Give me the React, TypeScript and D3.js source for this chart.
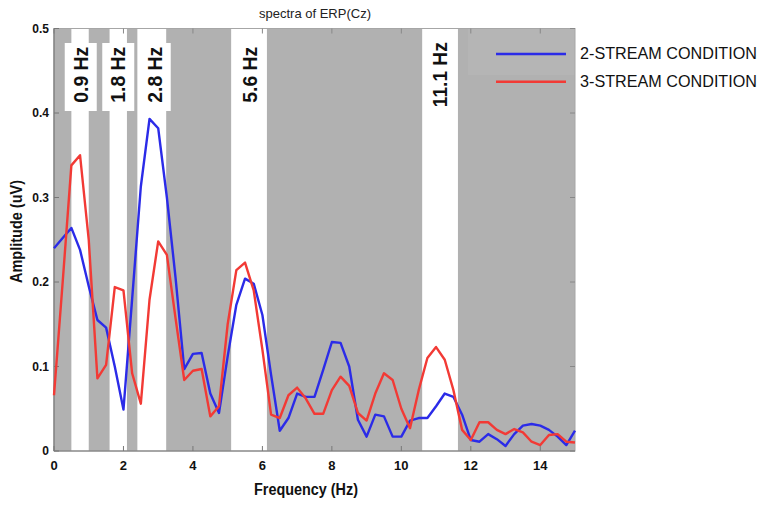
import React from "react";
import * as d3 from "d3";

const freqs = [
  0, 0.25, 0.5, 0.75, 1, 1.25, 1.5, 1.75, 2, 2.25, 2.5, 2.75, 3, 3.25, 3.5, 3.75,
  4, 4.25, 4.5, 4.75, 5, 5.25, 5.5, 5.75, 6, 6.25, 6.5, 6.75, 7, 7.25, 7.5, 7.75,
  8, 8.25, 8.5, 8.75, 9, 9.25, 9.5, 9.75, 10, 10.25, 10.5, 10.75, 11, 11.25, 11.5, 11.75,
  12, 12.25, 12.5, 12.75, 13, 13.25, 13.5, 13.75, 14, 14.25, 14.5, 14.75, 15,
];

const stream2 = [
  0.24, 0.252, 0.264, 0.238, 0.195, 0.155, 0.146, 0.1, 0.049, 0.18, 0.313, 0.393, 0.382, 0.3, 0.205, 0.097,
  0.115, 0.116, 0.068, 0.045, 0.112, 0.173, 0.204, 0.198, 0.161, 0.09, 0.024, 0.039, 0.068, 0.064, 0.064, 0.096,
  0.129, 0.128, 0.1, 0.037, 0.017, 0.043, 0.041, 0.017, 0.017, 0.036, 0.039, 0.039, 0.053, 0.068, 0.064, 0.043,
  0.013, 0.011, 0.02, 0.014, 0.006, 0.02, 0.03, 0.032, 0.03, 0.025, 0.017, 0.007, 0.024,
];

const stream3 = [
  0.066, 0.2, 0.338, 0.35, 0.25, 0.086, 0.102, 0.194, 0.19, 0.092, 0.056, 0.179, 0.248, 0.232, 0.157, 0.084,
  0.095, 0.097, 0.041, 0.053, 0.15, 0.214, 0.223, 0.19, 0.12, 0.043, 0.039, 0.066, 0.075, 0.062, 0.044, 0.044,
  0.072, 0.088, 0.077, 0.045, 0.036, 0.068, 0.092, 0.084, 0.05, 0.027, 0.072, 0.11, 0.123, 0.108, 0.072, 0.025,
  0.013, 0.034, 0.034, 0.025, 0.02, 0.026, 0.022, 0.011, 0.007, 0.019, 0.02, 0.011, 0.01,
];

// white frequency bands [start, end] in Hz
const bandStarts = [0.5, 1.6, 2.4, 5.1, 10.6];
const bandEnds = [1.0, 2.1, 3.23, 6.13, 11.63];
const bandLabels = ["0.9 Hz", "1.8 Hz", "2.8 Hz", "5.6 Hz", "11.1 Hz"];
const bandLabelPos = [0.77, 1.85, 2.9, 5.65, 11.11];

const xTicks = [0, 2, 4, 6, 8, 10, 12, 14];
const yTicks = [0, 0.1, 0.2, 0.3, 0.4, 0.5];
const yTickLabels = ["0", "0.1", "0.2", "0.3", "0.4", "0.5"];

const seriesNames = ["2-STREAM CONDITION", "3-STREAM CONDITION"];
const seriesColors = ["#2b2be8", "#f23a35"];

export default function App() {
  const W = 765;
  const H = 508;
  const x = d3.scaleLinear().domain([0, 15]).range([54, 575]);
  const y = d3.scaleLinear().domain([0, 0.5]).range([451, 28.5]);
  const top = y(0.5);
  const bottom = y(0);
  const left = x(0);
  const right = x(15);

  const line = d3
    .line<number>()
    .x((_, i) => x(freqs[i]))
    .y((d) => y(d));

  const series = [stream2, stream3];
  const boxW = 32;
  const labelLen = (s: string) => (s.length > 6 ? 65 : 56);
  const font = "Arial, 'Liberation Sans', Helvetica, sans-serif";

  return (
    <svg
      width={W}
      height={H}
      style={{ position: "absolute", left: 0, top: 0, background: "#fff" }}
      fontFamily={font}
    >
      {/* plot background */}
      <rect x={left} y={top} width={right - left} height={bottom - top} fill="#b1b1b1" />
      {/* legend box (lighter) */}
      <rect x={468} y={top} width={right - 468} height={75 - top} fill="#b5b5b5" />
      {/* white bands */}
      {bandStarts.map((s, i) => (
        <rect
          key={"b" + i}
          x={x(s)}
          y={top}
          width={x(bandEnds[i]) - x(s)}
          height={bottom - top}
          fill="#ffffff"
        />
      ))}
      {/* label boxes */}
      {bandLabelPos.map((p, i) => (
        <rect
          key={"lb" + i}
          x={x(p) - boxW / 2}
          y={43}
          width={boxW}
          height={68}
          fill="#ffffff"
        />
      ))}
      {/* frame */}
      <rect x={left} y={top} width={right - left} height={bottom - top} fill="none" stroke="#a6a6a6" strokeWidth={1} />
      {/* ticks */}
      {xTicks.map((t) => (
        <g key={"xt" + t}>
          <line x1={x(t)} x2={x(t)} y1={bottom} y2={bottom - 5} stroke="#777" />
          <line x1={x(t)} x2={x(t)} y1={top} y2={top + 5} stroke="#888" />
          <text
            x={x(t)}
            y={469.5}
            textAnchor="middle"
            fontSize={13}
            fontWeight="bold"
            fill="#111"
          >
            {t}
          </text>
        </g>
      ))}
      {yTicks.map((t, i) => (
        <g key={"yt" + t}>
          <line x1={left} x2={left + 5} y1={y(t)} y2={y(t)} stroke="#777" />
          <line x1={right} x2={right - 5} y1={y(t)} y2={y(t)} stroke="#888" />
          <text
            x={49}
            y={y(t)}
            dy="0.36em"
            textAnchor="end"
            fontSize={12}
            fontWeight="bold"
            fill="#111"
          >
            {yTickLabels[i]}
          </text>
        </g>
      ))}
      {/* axes */}
      <line x1={left} x2={left} y1={top} y2={bottom} stroke="#7a7a7a" strokeWidth={1.2} />
      <line x1={left} x2={right} y1={bottom} y2={bottom} stroke="#7a7a7a" strokeWidth={1.2} />

      {/* series */}
      {series.map((s, i) => (
        <path
          key={"s" + i}
          d={line(s) || ""}
          fill="none"
          stroke={seriesColors[i]}
          strokeWidth={2.4}
          strokeLinejoin="round"
        />
      ))}

      {/* band labels */}
      {bandLabels.map((l, i) => (
        <text
          key={"bl" + i}
          transform={`translate(${x(bandLabelPos[i])},74.7) rotate(-90)`}
          textAnchor="middle"
          dy="0.36em"
          fontSize={20}
          fontWeight="bold"
          fill="#111"
          textLength={labelLen(l)}
          lengthAdjust="spacingAndGlyphs"
        >
          {l}
        </text>
      ))}

      {/* legend */}
      {seriesNames.map((n, i) => (
        <g key={"lg" + i}>
          <line
            x1={496}
            x2={566}
            y1={54 + i * 27.7}
            y2={54 + i * 27.7}
            stroke={seriesColors[i]}
            strokeWidth={2.6}
          />
          <text
            x={580}
            y={59.3 + i * 28}
            fontSize={17}
            fill="#111"
            textLength={177}
            lengthAdjust="spacingAndGlyphs"
          >
            {n}
          </text>
        </g>
      ))}

      {/* title */}
      <text x={315} y={18} textAnchor="middle" fontSize={13} fill="#222">
        spectra of ERP(Cz)
      </text>

      {/* axis labels */}
      <text
        x={306}
        y={495}
        textAnchor="middle"
        fontSize={16}
        fontWeight="bold"
        fill="#111"
        textLength={104}
        lengthAdjust="spacingAndGlyphs"
      >
        Frequency (Hz)
      </text>
      <text
        transform="translate(22,231.5) rotate(-90)"
        textAnchor="middle"
        fontSize={16}
        fontWeight="bold"
        fill="#111"
        textLength={103}
        lengthAdjust="spacingAndGlyphs"
      >
        Amplitude (uV)
      </text>
    </svg>
  );
}
